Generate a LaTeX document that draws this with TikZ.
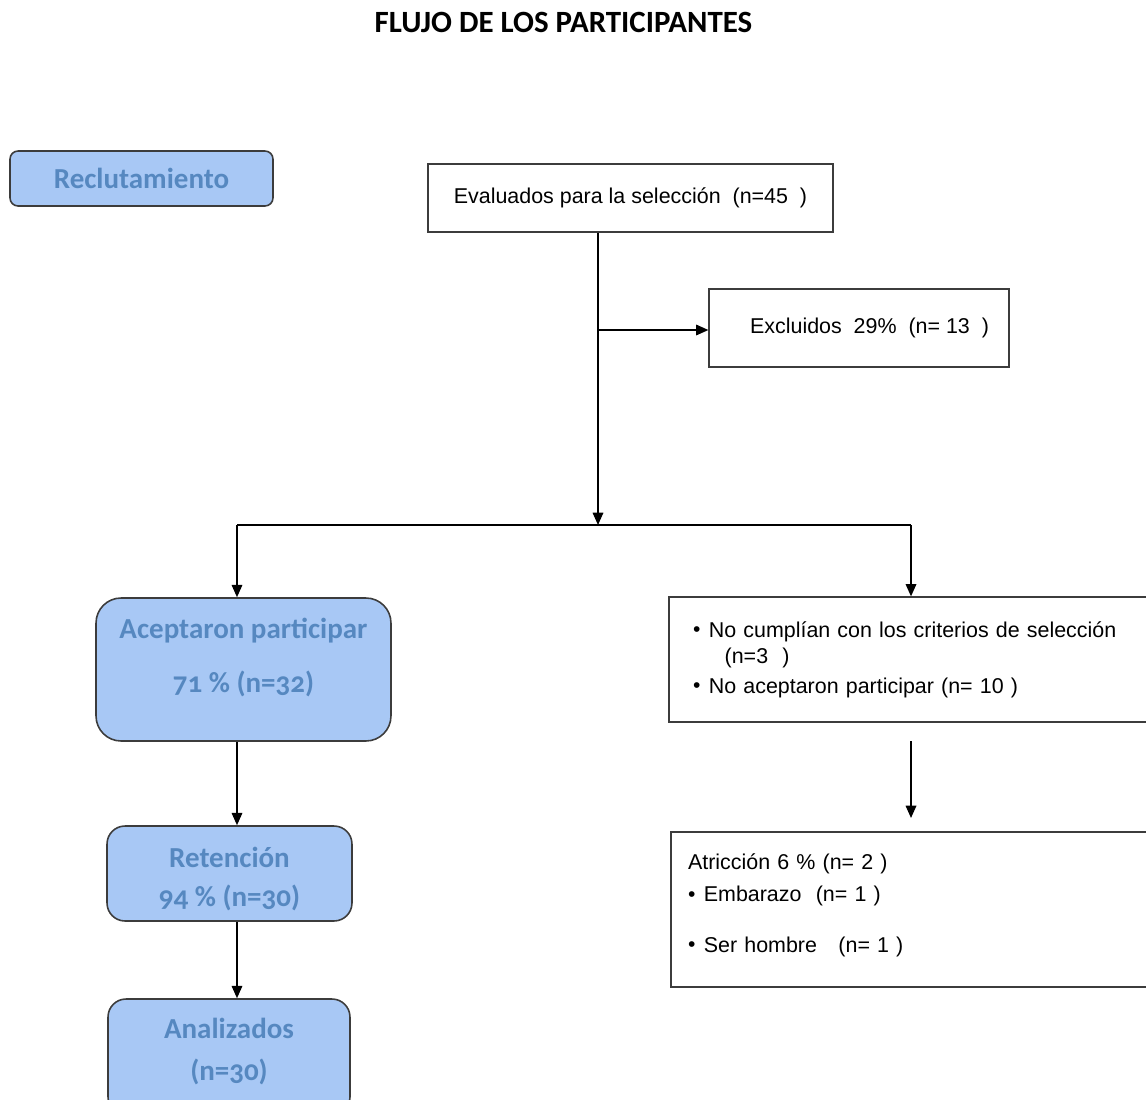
\documentclass[tikz,border=0pt]{standalone}
\usepackage{fontspec}
\setmainfont{Liberation Sans}
\newfontfamily\calib[Numbers=OldStyle]{Carlito}
\usetikzlibrary{arrows.meta}
\definecolor{boxblue}{RGB}{168,200,245}
\definecolor{txtblue}{RGB}{86,136,192}
\definecolor{edge}{RGB}{60,60,60}
\newcommand{\blt}{\makebox[9pt][l]{\raisebox{0.05ex}{\large •}}}
\newcommand{\bigbold}{\calib\bfseries\fontsize{16.5}{19}\selectfont}

\begin{document}
\begin{tikzpicture}[x=0.02cm,y=-0.02cm,
   bluebox/.style={draw=edge,line width=0.9pt,fill=boxblue,text=txtblue,font=\bigbold,align=center},
   plainbox/.style={draw=edge,line width=0.7pt,font=\fontsize{12.2}{15}\selectfont},
   conn/.style={line width=0.9pt},
   >={Triangle[length=7pt,width=6pt]}]
   \useasboundingbox (0,0) rectangle (1146,1099);
   \clip (0,0) rectangle (1146,1099);
   \node[font=\calib\bfseries\fontsize{17.6}{20}\selectfont] (title) at (563.5,22) {FLUJO DE LOS PARTICIPANTES};
   \node[bluebox,rounded corners=0.16cm,minimum width=5.26cm,minimum height=1.1cm] (recl) at (141.5,178.5) {Reclutamiento};
   \node[plainbox,minimum width=8.1cm,minimum height=1.36cm] (eval) at (630.5,198) {Evaluados para la selección\ \ (n=45\ \ )};
   \node[plainbox,minimum width=6cm,minimum height=1.56cm] (excl) at (859,328) {\hspace{12pt}Excluidos\ \ 29\%\ \ (n= 13\ \ )};
   \node[plainbox,text width=8.86cm,inner xsep=0.48cm,minimum height=2.5cm,align=left] (crit) at (914.5,659.5)
      {\blt No cumplían con los criterios de selección\\
       \hspace{18pt}(n=3\ \ )\\[2pt]
       \blt No aceptaron participar (n= 10 )};
   \node[plainbox,text width=9.1cm,inner xsep=0.34cm,minimum height=3.1cm,align=left] (atr) at (915.5,909.5)
      {Atricción 6 \% (n= 2 )\\[3pt]
       \blt Embarazo\ \ (n= 1 )\\[14pt]
       \blt Ser hombre\ \ \ (n= 1 )\\[-8pt]\mbox{}};
   \node[bluebox,rounded corners=0.5cm,minimum width=5.9cm,minimum height=2.86cm] (acep) at (243.5,669.5) {Aceptaron participar\\[12pt]71 \% (n=32)\\[-3pt]\mbox{}};
   \node[bluebox,rounded corners=0.36cm,minimum width=4.9cm,minimum height=1.9cm] (ret) at (229.5,873.5) {\mbox{}\\[-1.5pt]Retención\\[3pt]94 \% (n=30)};
   \node[bluebox,rounded corners=0.36cm,minimum width=4.84cm,minimum height=2.32cm] (anal) at (229,1057) {Analizados\\[5pt](n=30)\\[-10pt]\mbox{}};
   \coordinate (split) at (598,330);
   \coordinate (mid) at (598,525);
   \coordinate (left) at (237,525);
   \coordinate (right) at (911,525);
   \coordinate (ov1) at (517,525);
   \coordinate (ov2) at (633,525);
   \coordinate (down1) at (911,741);
   \coordinate (down2) at (911,818);
   \draw[conn,->] (eval.south -| mid) -- (mid);
   \draw[conn,->] (split) -- (split -| excl.west);
   \draw[conn] (left) -- (right);
   \draw[line width=1.5pt] (ov1) -- (ov2);
   \draw[conn,->] (left) -- (left |- acep.north);
   \draw[conn,->] (right) -- (right |- crit.north);
   \draw[conn,->] (acep.south -| left) -- (ret.north -| left);
   \draw[conn,->] (ret.south -| left) -- (anal.north -| left);
   \draw[conn,->] (down1) -- (down2);
\end{tikzpicture}
\end{document}
